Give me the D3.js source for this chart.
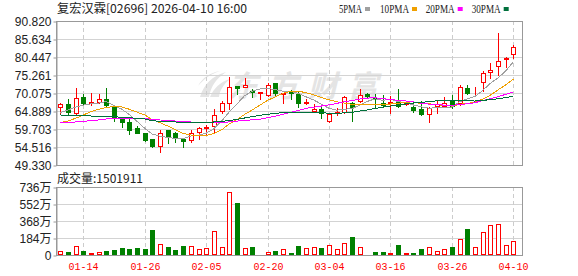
<!DOCTYPE html>
<html><head><meta charset="utf-8">
<script src="https://cdn.jsdelivr.net/npm/d3@7"></script>
<style>body{margin:0;background:#fff;} svg{display:block}</style>
</head><body>
<svg id="c" width="578" height="276"></svg>
<script>
const dates = ['01-09','01-12','01-13','01-14','01-15','01-16','01-19','01-20','01-21','01-22','01-23','01-26','01-27','01-28','01-29','01-30','02-02','02-03','02-04','02-05','02-06','02-09','02-10','02-11','02-12','02-13','02-16','02-20','02-23','02-24','02-25','02-26','02-27','03-02','03-03','03-04','03-05','03-06','03-09','03-10','03-11','03-12','03-13','03-16','03-17','03-18','03-19','03-20','03-23','03-24','03-25','03-26','03-27','03-30','03-31','04-01','04-02','04-08','04-09','04-10'];
const opens  = [66.14,66.9,64.21,68.82,67.09,67.58,68.25,66.14,63.06,61.62,60.08,58.45,56.72,54.8,59.41,58.64,56.72,56.53,58.93,60.08,60.56,64.98,67.09,72.09,71.9,70.74,69.98,69.5,72.86,69.69,70.46,69.69,67.2,64.98,65.37,62.1,64.21,64.69,67.09,67.77,69.69,68.73,67.29,67.09,67.86,66.9,66.14,65.37,63.93,66.33,66.43,67.77,67.29,71.42,70.08,73.15,76.22,77.86,79.78,81.22];
const highs  = [67.29,68.25,71.42,69.78,69.98,69.78,71.51,66.3,63.2,62.77,60.56,58.64,56.8,59.41,59.5,58.93,56.8,59.41,60.37,60.85,65.37,67.86,74.59,72.2,74.3,71.13,70.26,72.86,73.05,70.17,70.94,70.46,68.35,66.9,66.14,64.21,65.66,69.21,67.58,71.13,69.98,69.69,69.5,69.21,71.13,67.58,67.09,67.87,65.95,68.06,69.0,69.5,72.38,72.38,71.9,76.51,78.62,87.27,80.55,83.91];
const lows   = [64.41,63.9,64.1,66.6,66.62,67.09,66.14,62.0,60.37,58.26,58.45,56.24,54.42,52.98,55.76,56.05,54.61,56.05,56.72,58.26,58.93,64.21,65.37,69.78,71.8,69.02,68.25,69.21,69.21,67.09,68.25,66.14,67.0,64.9,62.77,61.81,63.73,64.41,62.1,67.58,68.54,66.14,66.14,64.21,66.14,66.62,64.69,63.74,61.82,64.22,66.33,65.66,66.62,69.79,69.79,70.75,74.3,75.26,77.47,80.07];
const closes = [67.0,64.7,68.54,67.09,67.38,68.25,66.62,63.06,61.81,59.41,58.64,56.53,54.8,58.64,57.68,57.3,56.24,58.64,59.89,60.37,63.73,67.09,71.9,71.42,72.38,70.26,70.26,72.38,69.98,70.17,69.98,67.29,67.5,65.37,64.21,63.93,64.69,68.82,66.14,69.5,69.21,68.25,66.71,67.58,66.33,67.29,65.17,64.03,65.66,66.91,67.1,66.33,71.71,69.98,70.17,75.74,76.7,79.3,80.16,83.23];
const volumes = [431000,323000,933000,431000,215000,323000,467000,538000,754000,646000,754000,646000,2690000,1150000,862000,538000,969000,933000,610000,754000,2550000,826000,6860000,5600000,718000,862000,108000,287000,431000,610000,251000,969000,790000,862000,790000,1080000,610000,1290000,1940000,826000,108000,323000,323000,215000,1080000,215000,215000,646000,862000,431000,646000,862000,1720000,2800000,862000,2480000,3230000,3340000,1080000,1501911];
// moving-average values for days whose window starts before the first shown day
const ma5Lead  = [64.4,65.2,66.0,66.6];
const ma10Lead = [61.52,62.01,62.79,63.74,64.69,65.38,65.96,66.13,66.04];
const ma20Lead = [61.63,61.63,61.72,61.92,62.1,62.3,62.58,62.79,62.87,62.87,62.79,62.68,62.5,62.3,62.2,62.0,61.92,61.72,61.63];
const ma30Lead = [63.74,63.65,63.65,63.54,63.45,63.36,63.25,63.25,63.07,62.96,62.79,62.58,62.09,61.92,61.81,61.72,61.63,61.63,61.63,61.63,61.72,61.92,62.09,62.5,62.87,63.25,63.65,63.94,64.23];
const priceTicks = [90.820,85.634,80.447,75.261,70.075,64.889,59.703,54.516,49.330];
const volTicks = [0,1840000,3680000,5520000,7360000];
const dateTicks = ['01-14','01-26','02-05','02-20','03-04','03-16','03-26','04-10'];
const title = '复宏汉霖[02696] 2026-04-10 16:00';
const maNames = ['5PMA','10PMA','20PMA','30PMA'];
const maColors = ['#a0a0a0','#f0a000','#ff00ff','#00703c'];

const RED = '#ff0000', GREEN = '#008000';
const svg = d3.select('#c');
const L = 56, R = 522, PT = 21, PB = 165, VT = 187, VB = 255;
const x = d3.scalePoint().domain(dates).range([60.3, 513.3]);
const y = d3.scaleLinear().domain([49.33, 90.82]).range([PB, PT]);
const yv = d3.scaleLinear().domain([0, 7360000]).range([VB, VT]);
const cx = d => Math.round(x(d));

// watermark
const wm = svg.append('g').attr('fill', '#e4e4e4');
wm.append('path').attr('d', 'M200,97 C204,84 212,76 226,72 C216,79 211,86 209,97 Z M210,97 C214,88 220,82 230,79 C223,85 220,90 219,97 Z M198,86 C203,77 210,73 220,71 C210,74 204,79 198,86 Z');
wm.append('text').attr('x', 228).attr('y', 97).attr('font-family', 'Noto Sans CJK SC')
  .attr('font-weight', 'bold').attr('font-size', 30).attr('font-style', 'italic')
  .attr('textLength', 150).attr('lengthAdjust', 'spacing').text('东方财富');

// horizontal grids
svg.append('g').selectAll('line').data(priceTicks.slice(1, -1)).join('line')
  .attr('x1', L).attr('x2', R).attr('y1', d => Math.round(y(d)) + 0.5).attr('y2', d => Math.round(y(d)) + 0.5)
  .attr('stroke', '#d3d3d3');
svg.append('g').selectAll('line').data(volTicks.slice(1, -1)).join('line')
  .attr('x1', L).attr('x2', R).attr('y1', d => Math.round(yv(d)) + 0.5).attr('y2', d => Math.round(yv(d)) + 0.5)
  .attr('stroke', '#d3d3d3');
// vertical dashed grids
[[PT, PB], [VT, VB]].forEach(([a, b]) => {
  svg.append('g').selectAll('line').data(dateTicks).join('line')
    .attr('x1', d => cx(d) + 0.5).attr('x2', d => cx(d) + 0.5).attr('y1', a).attr('y2', b)
    .attr('stroke', '#cccccc').attr('stroke-dasharray', '4,3');
});
// frames
svg.append('rect').attr('x', L + 0.5).attr('y', PT + 0.5).attr('width', R - L).attr('height', PB - PT)
  .attr('fill', 'none').attr('stroke', '#999');
svg.append('rect').attr('x', L + 0.5).attr('y', VT + 0.5).attr('width', R - L).attr('height', VB - VT)
  .attr('fill', 'none').attr('stroke', '#999');

// axes
const ya = svg.append('g').attr('transform', `translate(${L + 0.5},0.5)`)
  .call(d3.axisLeft(y).tickValues(priceTicks).tickFormat(d3.format('.3f')).tickSize(3).tickPadding(2).tickSizeOuter(0));
const yva = svg.append('g').attr('transform', `translate(${L + 0.5},0.5)`)
  .call(d3.axisLeft(yv).tickValues(volTicks).tickFormat(d => d === 0 ? '0' : (d / 10000) + '万').tickSize(3).tickPadding(2).tickSizeOuter(0));
[ya, yva].forEach(g => {
  g.select('.domain').attr('stroke', '#999');
  g.selectAll('.tick line').attr('stroke', '#999');
  g.selectAll('.tick text').attr('font-family', 'Liberation Sans, Noto Sans CJK SC').attr('font-size', 12).attr('fill', '#222');
});
ya.selectAll('.tick line').attr('transform', d => `translate(0,${Math.round(y(d)) - y(d)})`);

// x labels
svg.append('g').selectAll('text').data(dateTicks).join('text')
  .attr('x', d => cx(d) + 0.5).attr('y', 270).attr('text-anchor', 'middle')
  .attr('font-family', 'Liberation Mono').attr('font-size', 11).attr('fill', '#ff0000')
  .attr('textLength', 30).attr('lengthAdjust', 'spacingAndGlyphs').text(d => d);

// candles
const idx = d3.range(dates.length);
const up = i => closes[i] >= opens[i];
const cg = svg.append('g');
cg.selectAll('line').data(idx).join('line')
  .attr('x1', i => cx(dates[i]) + 0.5).attr('x2', i => cx(dates[i]) + 0.5)
  .attr('y1', i => Math.round(y(highs[i]))).attr('y2', i => Math.round(y(lows[i])) + 1)
  .attr('stroke', i => up(i) ? RED : GREEN);
cg.selectAll('rect').data(idx).join('rect')
  .attr('x', i => cx(dates[i]) - 1.5)
  .attr('y', i => Math.round(y(Math.max(opens[i], closes[i]))) + 0.5)
  .attr('width', 4)
  .attr('height', i => Math.max(0, Math.round(y(Math.min(opens[i], closes[i]))) - Math.round(y(Math.max(opens[i], closes[i])))))
  .attr('fill', i => up(i) ? '#fff' : GREEN).attr('stroke', i => up(i) ? RED : GREEN);

// moving averages
function rolling(n, lead) {
  return idx.map(i => i < lead.length ? lead[i] : d3.mean(closes.slice(i - n + 1, i + 1)));
}
const mas = [rolling(5, ma5Lead), rolling(10, ma10Lead), rolling(20, ma20Lead), rolling(30, ma30Lead)];
const line = d3.line().x((v, i) => x(dates[i])).y(v => y(v));
svg.append('g').selectAll('path').data(mas).join('path')
  .attr('d', line).attr('fill', 'none').attr('stroke', (d, k) => maColors[k]).attr('stroke-width', 1)
  .attr('shape-rendering', 'crispEdges');

// volume bars
svg.append('g').selectAll('rect').data(idx).join('rect')
  .attr('x', i => cx(dates[i]) - 1.5)
  .attr('y', i => Math.round(yv(volumes[i])) + 0.5)
  .attr('width', 4)
  .attr('height', i => Math.max(0, VB - Math.round(yv(volumes[i])) - 1))
  .attr('fill', i => up(i) ? '#fff' : GREEN).attr('stroke', i => up(i) ? RED : GREEN);

// title & legend
svg.append('text').attr('x', 57).attr('y', 13).attr('font-family', 'Noto Sans CJK SC')
  .attr('font-size', 12).attr('fill', '#222').attr('textLength', 190).attr('lengthAdjust', 'spacingAndGlyphs').text(title);
const legX = [339, 380, 425.7, 471.7];
const lg = svg.append('g');
maNames.forEach((n, k) => {
  lg.append('text').attr('x', legX[k]).attr('y', 12.5).attr('font-family', 'Liberation Serif')
    .attr('font-size', 12).attr('fill', '#222').attr('textLength', n.length * 6 - 1).attr('lengthAdjust', 'spacingAndGlyphs').text(n);
  lg.append('rect').attr('x', legX[k] + n.length * 6 + 2).attr('y', 7).attr('width', 5).attr('height', 4).attr('fill', maColors[k]);
});
svg.append('text').attr('x', 57).attr('y', 183).attr('font-family', 'Noto Sans CJK SC')
  .attr('font-size', 12).attr('fill', '#222').text('成交量:' + volumes[volumes.length - 1]);
</script>
</body></html>
